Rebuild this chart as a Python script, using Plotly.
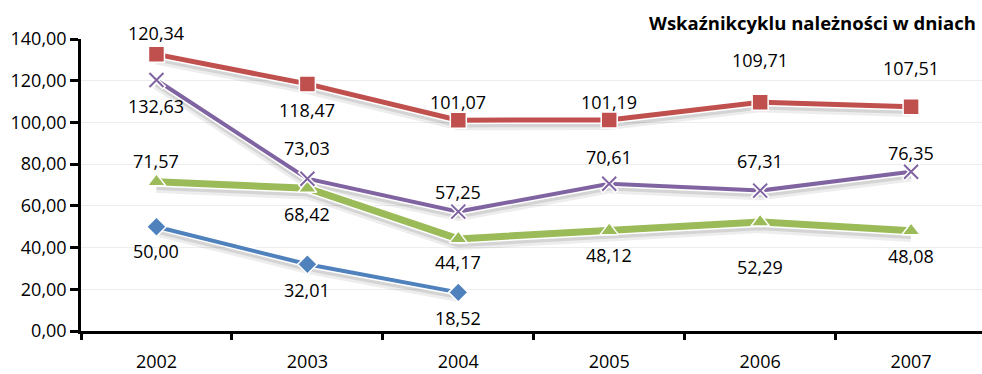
import plotly.graph_objects as go

# Receivable turnover (days) by year
years = ["2002", "2003", "2004", "2005", "2006", "2007"]
red_vals = [132.63, 118.47, 101.07, 101.19, 109.71, 107.51]
purple_vals = [120.34, 73.03, 57.25, 70.61, 67.31, 76.35]
green_vals = [71.57, 68.42, 44.17, 48.12, 52.29, 48.08]
blue_vals = [50.00, 32.01, 18.52]

# vertical label offsets (px, positive = above the point)
red_shift = [-52, -26, 18, 18, 42, 39]
purple_shift = [47, 31, 20, 27, 30, 19]
green_shift = [21, -26, -23, -24, -45, -25]
blue_shift = [-24, -26, -26]

FONT = "Open Sans"
FS = 18
series = [
    dict(vals=blue_vals, color="#4F81BD", width=4, symbol="diamond", size=15, shift=blue_shift),
    dict(vals=green_vals, color="#9BBB59", width=7, symbol="triangle-up", size=16, shift=green_shift),
    dict(vals=red_vals, color="#C0504D", width=5, symbol="square", size=16, shift=red_shift),
    dict(vals=purple_vals, color="#8064A2", width=4, symbol="x-thin", size=14, shift=purple_shift),
]

fig = go.Figure()

# soft drop shadows
for s in series:
    xs = years[:len(s["vals"])]
    fig.add_trace(go.Scatter(
        x=xs, y=[v - 2.0 for v in s["vals"]], mode="lines",
        line=dict(color="rgba(0,0,0,0.07)", width=s["width"] + 7),
        hoverinfo="skip", showlegend=False))
    fig.add_trace(go.Scatter(
        x=xs, y=[v - 1.8 for v in s["vals"]], mode="lines",
        line=dict(color="rgba(0,0,0,0.10)", width=s["width"] + 2),
        hoverinfo="skip", showlegend=False))

for s in series:
    xs = years[:len(s["vals"])]
    # white outline under the line
    fig.add_trace(go.Scatter(
        x=xs, y=s["vals"], mode="lines",
        line=dict(color="white", width=s["width"] + 3),
        hoverinfo="skip", showlegend=False))
    fig.add_trace(go.Scatter(
        x=xs, y=s["vals"], mode="lines",
        line=dict(color=s["color"], width=s["width"]),
        showlegend=False))
    if s["symbol"] == "x-thin":
        fig.add_trace(go.Scatter(
            x=xs, y=s["vals"], mode="markers",
            marker=dict(symbol="x-thin", size=s["size"] + 2,
                        line=dict(color="white", width=5)),
            hoverinfo="skip", showlegend=False))
        fig.add_trace(go.Scatter(
            x=xs, y=s["vals"], mode="markers",
            marker=dict(symbol="x-thin", size=s["size"],
                        line=dict(color=s["color"], width=2)),
            showlegend=False))
    else:
        fig.add_trace(go.Scatter(
            x=xs, y=s["vals"], mode="markers",
            marker=dict(symbol=s["symbol"], size=s["size"], color=s["color"],
                        line=dict(color="white", width=1.5)),
            showlegend=False))

# value labels (category positions are indexed from zero)
annotations = []
for s in series:
    for i, (v, dy) in enumerate(zip(s["vals"], s["shift"])):
        annotations.append(dict(
            x=i, y=v, xref="x", yref="y", yshift=dy, showarrow=False,
            text=f"{v:.2f}".replace(".", ","),
            font=dict(family=FONT, size=FS, color="#000000")))

annotations.append(dict(
    x=0.9955, y=1.055, xref="paper", yref="paper", xanchor="right", yanchor="middle",
    showarrow=False, text="<b>Wskaźnikcyklu należności w dniach</b>",
    font=dict(family=FONT, size=18.5, color="#000000")))

fig.update_layout(
    width=982, height=374,
    margin=dict(l=81, r=0, t=39, b=43),
    paper_bgcolor="white", plot_bgcolor="white",
    separators=", ",
    font=dict(family=FONT, size=FS, color="#000000"),
    annotations=annotations,
)

fig.update_xaxes(
    type="category", categoryorder="array", categoryarray=years,
    range=[-0.5, 5.47], tickson="boundaries", automargin=False,
    showline=True, linecolor="black", linewidth=2.5,
    ticks="outside", ticklen=6, tickwidth=2.5, tickcolor="black",
    ticklabelstandoff=13,
    showgrid=False, zeroline=False,
    tickfont=dict(family=FONT, size=FS, color="#000000"),
)
fig.update_yaxes(
    range=[0, 140], dtick=20, tickformat=".2f", automargin=False,
    showline=True, linecolor="black", linewidth=2.5,
    ticks="outside", ticklen=8, tickwidth=2.5, tickcolor="black",
    showgrid=True, gridcolor="#EDEDED", gridwidth=1, zeroline=False,
    tickfont=dict(family=FONT, size=FS, color="#000000"),
)

fig.write_html("out.html")
